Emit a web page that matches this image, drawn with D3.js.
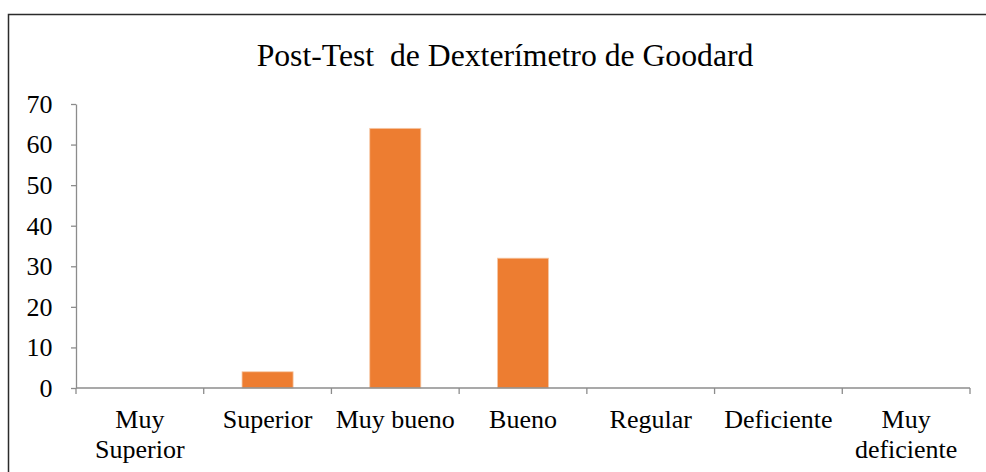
<!DOCTYPE html>
<html>
<head>
<meta charset="utf-8">
<script src="https://cdn.jsdelivr.net/npm/d3@7"></script>
<style>
  html, body { margin: 0; padding: 0; background: #fff; }
  svg { display: block; }
  svg text { font-family: "Liberation Serif", "Times New Roman", Times, "DejaVu Serif", serif; }
</style>
</head>
<body>
<svg id="chart" width="986" height="472"></svg>
<script>
const title = "Post-Test\u00a0 de Dexterímetro de Goodard";
const categories = ["Muy Superior", "Superior", "Muy bueno", "Bueno", "Regular", "Deficiente", "Muy deficiente"];
const categoryLines = [["Muy", "Superior"], ["Superior"], ["Muy bueno"], ["Bueno"], ["Regular"], ["Deficiente"], ["Muy", "deficiente"]];
const values = [0, 4, 64, 32, 0, 0, 0];
const yTicks = [0, 10, 20, 30, 40, 50, 60, 70];

const svg = d3.select("#chart");
const font = '"Liberation Serif", "Times New Roman", Times, "DejaVu Serif", serif';

// outer frame
svg.append("rect")
  .attr("x", 8.5).attr("y", 14.5)
  .attr("width", 1100).attr("height", 600)
  .attr("fill", "none").attr("stroke", "#2b2b2b").attr("stroke-width", 1.5);

const x0 = 76, x1 = 970, yTop = 104, yBot = 388;

const x = d3.scaleBand().domain(categories).range([x0, x1]).paddingInner(0.6).paddingOuter(0.3);
const y = d3.scaleLinear().domain([0, 70]).range([yBot, yTop]);

svg.append("text")
  .attr("x", 505).attr("y", 66)
  .attr("text-anchor", "middle")
  .style("font-family", font).style("font-size", "31.7px")
  .attr("fill", "#000")
  .text(title);

// bars
svg.append("g").selectAll("rect").data(values).join("rect")
  .attr("x", (d, i) => x(categories[i]))
  .attr("width", x.bandwidth())
  .attr("y", d => y(d))
  .attr("height", d => y(0) - y(d))
  .attr("fill", "#ED7D31")
  .attr("stroke", "#F6C9A8").attr("stroke-width", 0.8);

const axisColor = "#8c8c8c";

// y axis
const yAxis = svg.append("g").attr("transform", `translate(${x0},0)`)
  .call(d3.axisLeft(y).tickValues(yTicks).tickSize(5).tickSizeOuter(0).tickPadding(18.5));
yAxis.attr("font-family", null).attr("font-size", null);
yAxis.select(".domain").attr("stroke", axisColor).attr("stroke-width", 1.3);
yAxis.selectAll(".tick line").attr("stroke", axisColor).attr("stroke-width", 1.3);
yAxis.selectAll(".tick text").style("font-family", font).style("font-size", "26px").attr("fill", "#000");

// x axis
const xb = d3.scaleLinear().domain([0, categories.length]).range([x0, x1]);
const xAxis = svg.append("g").attr("transform", `translate(0,${yBot})`);
xAxis.append("line").attr("x1", x0).attr("x2", x1).attr("y1", 0).attr("y2", 0)
  .attr("stroke", axisColor).attr("stroke-width", 1.3);
xAxis.selectAll("line.tk").data(d3.range(categories.length + 1)).join("line")
  .attr("class", "tk")
  .attr("x1", d => xb(d)).attr("x2", d => xb(d))
  .attr("y1", 0).attr("y2", 6)
  .attr("stroke", axisColor).attr("stroke-width", 1.3);

const labels = xAxis.selectAll("text.lbl").data(categories).join("text")
  .attr("class", "lbl")
  .attr("text-anchor", "middle")
  .style("font-family", font).style("font-size", "26px").attr("fill", "#000")
  .attr("transform", d => `translate(${x(d) + x.bandwidth() / 2},0)`);
labels.each(function(d, i) {
  d3.select(this).selectAll("tspan").data(categoryLines[i]).join("tspan")
    .attr("x", 0).attr("y", (t, j) => 39.5 + j * 30)
    .text(t => t);
});
</script>
</body>
</html>
